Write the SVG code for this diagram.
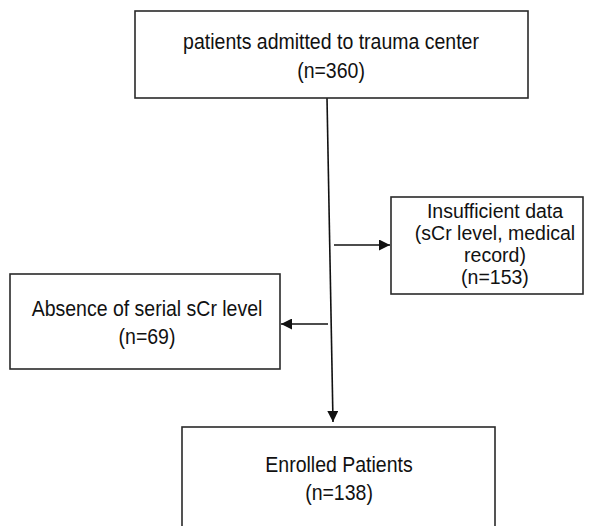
<svg xmlns="http://www.w3.org/2000/svg" width="589" height="526" viewBox="0 0 589 526">
<style>
.box{fill:#fff;stroke:#2a2a2a;stroke-width:1.6}
.t{font-family:"Liberation Sans",Arial,sans-serif;font-size:19.5px;fill:#111;text-anchor:middle}
.c{stroke:#111;stroke-width:1.6;fill:none}
</style>
<defs>
<marker id="ah" viewBox="0 0 10 10" refX="10" refY="5" markerWidth="11" markerHeight="11" markerUnits="userSpaceOnUse" orient="auto">
<path d="M0,0 L10,5 L0,10 z" fill="#111"/>
</marker>
</defs>
<rect width="589" height="526" fill="#fff"/>
<g id="connectors">
<line class="c" x1="327" y1="98" x2="333" y2="422" marker-end="url(#ah)"/>
<line class="c" x1="334" y1="245" x2="390" y2="245" marker-end="url(#ah)"/>
<line class="c" x1="328" y1="324" x2="281" y2="324" marker-end="url(#ah)"/>
</g>
<g id="node-admitted">
<rect class="box" x="135" y="11" width="393" height="87"/>
<text class="t" transform="translate(331,49) scale(1,1.13)">patients admitted to trauma center</text>
<text class="t" transform="translate(331,78) scale(1,1.13)">(n=360)</text>
</g>
<g id="node-insufficient">
<rect class="box" x="391" y="197" width="192" height="97"/>
<text class="t" x="495" y="218">Insufficient data</text>
<text class="t" x="495" y="240">(sCr level, medical</text>
<text class="t" x="495" y="262">record)</text>
<text class="t" x="495" y="284">(n=153)</text>
</g>
<g id="node-absence">
<rect class="box" x="10" y="274" width="270" height="95"/>
<text class="t" transform="translate(147,316) scale(1,1.13)">Absence of serial sCr level</text>
<text class="t" transform="translate(147,344) scale(1,1.13)">(n=69)</text>
</g>
<g id="node-enrolled">
<rect class="box" x="182" y="427" width="313" height="110"/>
<text class="t" transform="translate(339,472) scale(1,1.13)">Enrolled Patients</text>
<text class="t" transform="translate(339,500) scale(1,1.13)">(n=138)</text>
</g>
</svg>
